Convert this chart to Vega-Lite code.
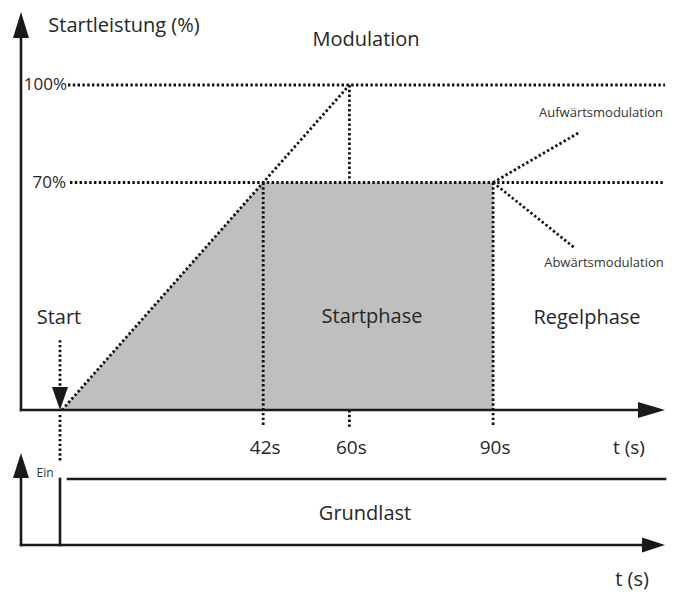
{
  "$schema": "https://vega.github.io/schema/vega-lite/v6.json",
  "width": 676,
  "height": 592,
  "autosize": {"type": "fit", "contains": "padding"},
  "padding": 0,
  "background": "white",
  "config": {"view": {"stroke": null}, "font": "Open Sans"},
  "datasets": {
    "fill": [{"t": 0, "p": 0}, {"t": 42, "p": 70}, {"t": 90, "p": 70}],
    "upperSolid": [
      {"t1": -8.56, "p1": 0, "t2": -8.56, "p2": 116.9},
      {"t1": -8.56, "p1": 0, "t2": 121.7, "p2": 0}
    ],
    "upperDotted": [
      {"t1": 1.25, "p1": 100, "t2": 125.9, "p2": 100},
      {"t1": 1.67, "p1": 70, "t2": 125.9, "p2": 70},
      {"t1": 0, "p1": 0, "t2": 60, "p2": 100},
      {"t1": 60, "p1": 100, "t2": 60, "p2": 70},
      {"t1": 42, "p1": 70, "t2": 42, "p2": -5.2},
      {"t1": 60, "p1": 0, "t2": 60, "p2": -5.2},
      {"t1": 90, "p1": 70, "t2": 90, "p2": -5.2},
      {"t1": 90, "p1": 70, "t2": 108.1, "p2": 85.5},
      {"t1": 90, "p1": 70, "t2": 107.1, "p2": 49.8},
      {"t1": -0.42, "p1": 21.5, "t2": -0.42, "p2": 7.5},
      {"t1": -0.42, "p1": -1.5, "t2": -0.42, "p2": -16.3}
    ],
    "upperArrows": [
      {"t": -8.56, "p": 118.46, "arrow": "up"},
      {"t": 123.07, "p": 0, "arrow": "right"},
      {"t": -0.42, "p": 3.54, "arrow": "start"}
    ],
    "lowerSolid": [
      {"t1": -8.56, "s1": 0, "t2": -8.56, "s2": 1.26},
      {"t1": -8.56, "s1": 0, "t2": 122.3, "s2": 0},
      {"t1": -0.42, "s1": 0, "t2": -0.42, "s2": 1},
      {"t1": 1.25, "s1": 1, "t2": 125.9, "s2": 1}
    ],
    "lowerArrows": [
      {"t": -8.56, "s": 1.2045, "arrow": "upLower"},
      {"t": 123.49, "s": 0, "arrow": "rightLower"}
    ],
    "upperTitles": [
      {"t": 12.94, "p": 118.15, "label": "Startleistung (%)"},
      {"t": 63.47, "p": 113.85, "label": "Modulation"},
      {"t": -0.63, "p": 28.31, "label": "Start"},
      {"t": 64.72, "p": 28.62, "label": "Startphase"},
      {"t": 109.6, "p": 28.31, "label": "Regelphase"}
    ],
    "percentLabels": [
      {"t": 1.04, "p": 100, "label": "100%"},
      {"t": 0.84, "p": 70, "label": "70%"}
    ],
    "tickLabels": [
      {"t": 42, "p": -11.7, "label": "42s"},
      {"t": 60, "p": -11.7, "label": "60s"},
      {"t": 90, "p": -11.7, "label": "90s"},
      {"t": 117.95, "p": -11.7, "label": "t (s)"}
    ],
    "smallLabels": [
      {"t": 112.53, "p": 91.38, "label": "Aufwärtsmodulation"},
      {"t": 113.15, "p": 45.23, "label": "Abwärtsmodulation"}
    ],
    "lowerLabels": [
      {"t": 63.26, "s": 0.47, "label": "Grundlast"},
      {"t": 119.0, "s": -0.53, "label": "t (s)"}
    ],
    "einLabel": [{"t": -3.55, "s": 1.09, "label": "Ein"}]
  },
  "layer": [
    {
      "layer": [
        {
          "data": {"name": "fill"},
          "mark": {"type": "area", "color": "#bfbfbf", "opacity": 1},
          "encoding": {
            "x": {"field": "t", "type": "quantitative", "scale": {"domain": [-12.944, 128.184], "nice": false, "zero": false}, "axis": null},
            "y": {"field": "p", "type": "quantitative", "scale": {"domain": [-56.0, 126.154], "nice": false, "zero": false}, "axis": null},
            "y2": {"datum": 0}
          }
        },
        {
          "data": {"name": "upperDotted"},
          "mark": {"type": "rule", "color": "#111111", "strokeWidth": 2.8, "strokeDash": [2.4, 2.4]},
          "encoding": {
            "x": {"field": "t1", "type": "quantitative", "scale": {"domain": [-12.944, 128.184], "nice": false, "zero": false}, "axis": null},
            "x2": {"field": "t2"},
            "y": {"field": "p1", "type": "quantitative", "scale": {"domain": [-56.0, 126.154], "nice": false, "zero": false}, "axis": null},
            "y2": {"field": "p2"}
          }
        },
        {
          "data": {"name": "upperSolid"},
          "mark": {"type": "rule", "color": "#1a1a1a", "strokeWidth": 2.6, "strokeCap": "square"},
          "encoding": {
            "x": {"field": "t1", "type": "quantitative", "scale": {"domain": [-12.944, 128.184], "nice": false, "zero": false}, "axis": null},
            "x2": {"field": "t2"},
            "y": {"field": "p1", "type": "quantitative", "scale": {"domain": [-56.0, 126.154], "nice": false, "zero": false}, "axis": null},
            "y2": {"field": "p2"}
          }
        },
        {
          "data": {"name": "upperArrows"},
          "mark": {"type": "point", "filled": true, "color": "#1a1a1a", "opacity": 1, "size": 900},
          "encoding": {
            "x": {"field": "t", "type": "quantitative", "scale": {"domain": [-12.944, 128.184], "nice": false, "zero": false}, "axis": null},
            "y": {"field": "p", "type": "quantitative", "scale": {"domain": [-56.0, 126.154], "nice": false, "zero": false}, "axis": null},
            "shape": {"field": "arrow", "type": "nominal", "legend": null, "scale": {"domain": ["up", "right", "start", "upLower", "rightLower"], "range": ["M-0.533,0.867L0,-0.867L0.533,0.867Z", "M-0.9,-0.533L0.9,0L-0.9,0.533Z", "M-0.533,-0.767L0.533,-0.767L0,0.767Z", "M-0.533,0.833L0,-0.833L0.533,0.833Z", "M-0.767,-0.5L0.767,0L-0.767,0.5Z"]}}
          }
        },
        {
          "data": {"name": "upperTitles"},
          "mark": {"type": "text", "fontSize": 20, "color": "#262626", "align": "center", "baseline": "middle"},
          "encoding": {
            "x": {"field": "t", "type": "quantitative", "scale": {"domain": [-12.944, 128.184], "nice": false, "zero": false}, "axis": null},
            "y": {"field": "p", "type": "quantitative", "scale": {"domain": [-56.0, 126.154], "nice": false, "zero": false}, "axis": null},
            "text": {"field": "label"}
          }
        },
        {
          "data": {"name": "percentLabels"},
          "mark": {"type": "text", "fontSize": 17, "color": "#262626", "align": "right", "baseline": "middle"},
          "encoding": {
            "x": {"field": "t", "type": "quantitative", "scale": {"domain": [-12.944, 128.184], "nice": false, "zero": false}, "axis": null},
            "y": {"field": "p", "type": "quantitative", "scale": {"domain": [-56.0, 126.154], "nice": false, "zero": false}, "axis": null},
            "text": {"field": "label"}
          }
        },
        {
          "data": {"name": "tickLabels"},
          "mark": {"type": "text", "fontSize": 19, "color": "#262626", "align": "center", "baseline": "middle", "dx": 2},
          "encoding": {
            "x": {"field": "t", "type": "quantitative", "scale": {"domain": [-12.944, 128.184], "nice": false, "zero": false}, "axis": null},
            "y": {"field": "p", "type": "quantitative", "scale": {"domain": [-56.0, 126.154], "nice": false, "zero": false}, "axis": null},
            "text": {"field": "label"}
          }
        },
        {
          "data": {"name": "smallLabels"},
          "mark": {"type": "text", "fontSize": 13, "color": "#333333", "align": "center", "baseline": "middle"},
          "encoding": {
            "x": {"field": "t", "type": "quantitative", "scale": {"domain": [-12.944, 128.184], "nice": false, "zero": false}, "axis": null},
            "y": {"field": "p", "type": "quantitative", "scale": {"domain": [-56.0, 126.154], "nice": false, "zero": false}, "axis": null},
            "text": {"field": "label"}
          }
        }
      ]
    },
    {
      "layer": [
        {
          "data": {"name": "lowerSolid"},
          "mark": {"type": "rule", "color": "#1a1a1a", "strokeWidth": 2.6, "strokeCap": "square"},
          "encoding": {
            "x": {"field": "t1", "type": "quantitative", "scale": {"domain": [-12.944, 128.184], "nice": false, "zero": false}, "axis": null},
            "x2": {"field": "t2"},
            "y": {"field": "s1", "type": "quantitative", "scale": {"domain": [-0.7121, 8.2576], "nice": false, "zero": false}, "axis": null},
            "y2": {"field": "s2"}
          }
        },
        {
          "data": {"name": "lowerArrows"},
          "mark": {"type": "point", "filled": true, "color": "#1a1a1a", "opacity": 1, "size": 900},
          "encoding": {
            "x": {"field": "t", "type": "quantitative", "scale": {"domain": [-12.944, 128.184], "nice": false, "zero": false}, "axis": null},
            "y": {"field": "s", "type": "quantitative", "scale": {"domain": [-0.7121, 8.2576], "nice": false, "zero": false}, "axis": null},
            "shape": {"field": "arrow", "type": "nominal", "legend": null, "scale": {"domain": ["up", "right", "start", "upLower", "rightLower"], "range": ["M-0.533,0.867L0,-0.867L0.533,0.867Z", "M-0.9,-0.533L0.9,0L-0.9,0.533Z", "M-0.533,-0.767L0.533,-0.767L0,0.767Z", "M-0.533,0.833L0,-0.833L0.533,0.833Z", "M-0.767,-0.5L0.767,0L-0.767,0.5Z"]}}
          }
        },
        {
          "data": {"name": "lowerLabels"},
          "mark": {"type": "text", "fontSize": 20, "color": "#262626", "align": "center", "baseline": "middle"},
          "encoding": {
            "x": {"field": "t", "type": "quantitative", "scale": {"domain": [-12.944, 128.184], "nice": false, "zero": false}, "axis": null},
            "y": {"field": "s", "type": "quantitative", "scale": {"domain": [-0.7121, 8.2576], "nice": false, "zero": false}, "axis": null},
            "text": {"field": "label"}
          }
        },
        {
          "data": {"name": "einLabel"},
          "mark": {"type": "text", "fontSize": 12, "color": "#333333", "align": "center", "baseline": "middle"},
          "encoding": {
            "x": {"field": "t", "type": "quantitative", "scale": {"domain": [-12.944, 128.184], "nice": false, "zero": false}, "axis": null},
            "y": {"field": "s", "type": "quantitative", "scale": {"domain": [-0.7121, 8.2576], "nice": false, "zero": false}, "axis": null},
            "text": {"field": "label"}
          }
        }
      ]
    }
  ],
  "resolve": {"scale": {"y": "independent"}}
}
